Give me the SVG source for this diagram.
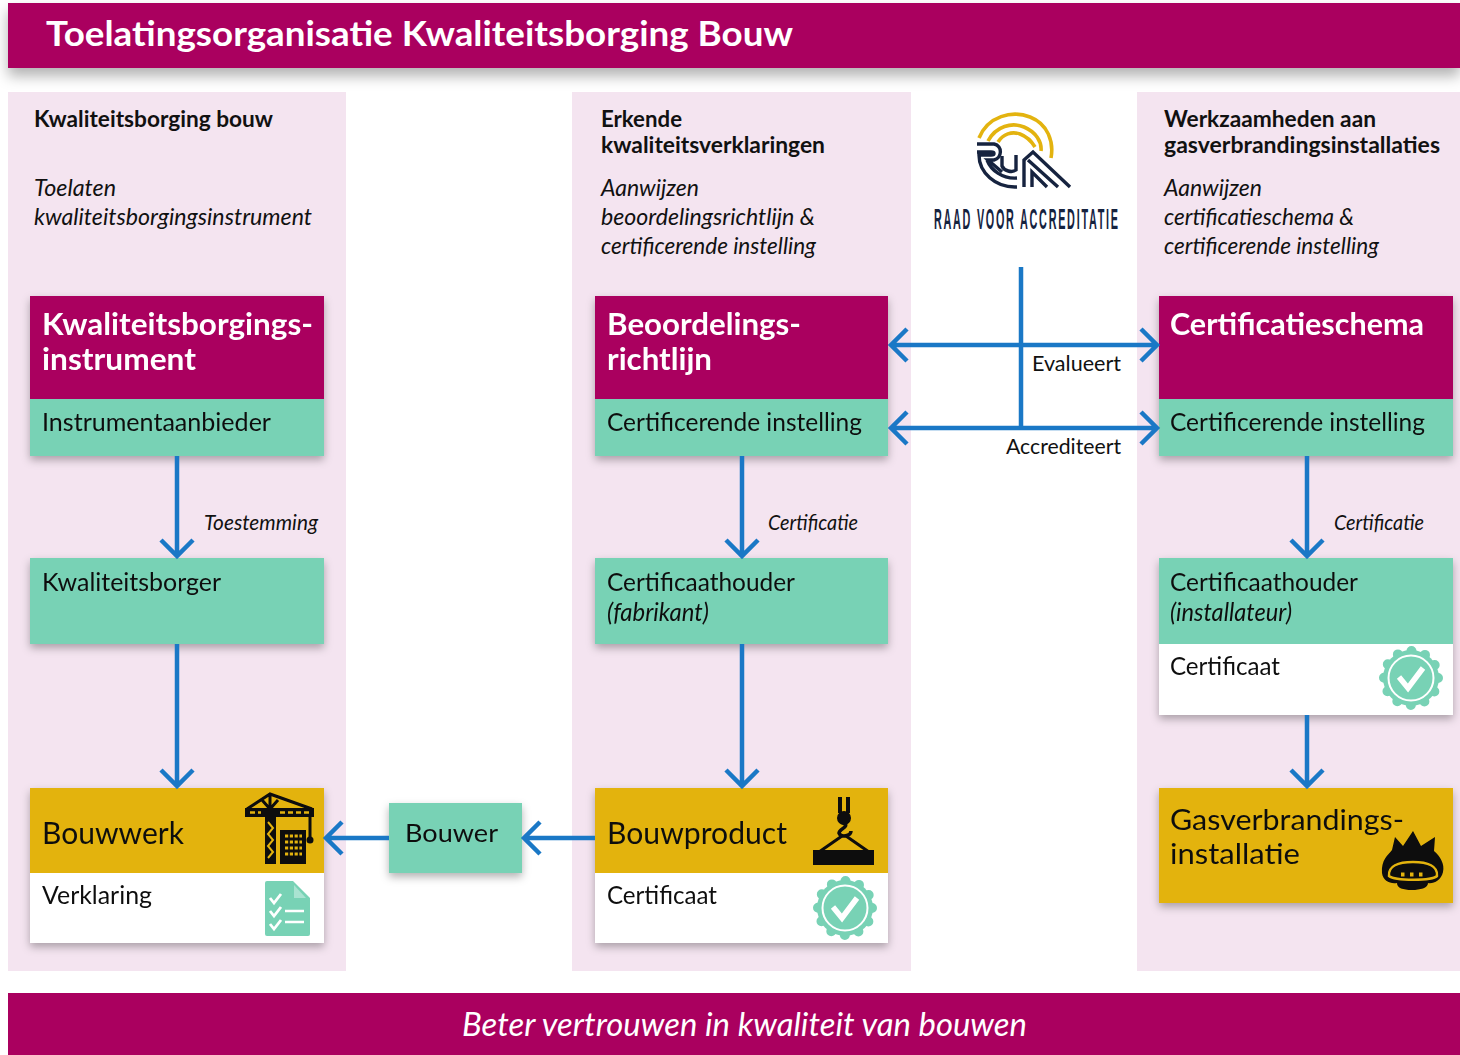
<svg xmlns="http://www.w3.org/2000/svg" width="1460" height="1055" viewBox="0 0 1460 1055">
<style>
text{font-family:"Lato","Noto Sans","Liberation Sans",sans-serif;fill:#111}
.h{font-size:23px;font-weight:700}
.i{font-size:24px;font-style:italic}
.n{font-size:25px}
.hh{font-size:31px;font-weight:700;fill:#fff}
.y{font-size:31px}
.y2{font-size:29px}
.l{font-size:22px}
.li{font-size:22px;font-style:italic}
.p{fill:#f4e4f0}
.m{fill:#aa005f}
.g{fill:#78d2b5}
.o{fill:#e3b30f}
.w{fill:#fff}
.c{fill:none;stroke:#1a78c6;stroke-width:4.5}
.k{fill:#0a0a0a}
</style>
<defs>
<filter id="s" x="-10%" y="-20%" width="120%" height="140%"><feDropShadow dx="0" dy="4" stdDeviation="4" flood-color="#000" flood-opacity=".3"/></filter>
<filter id="st" x="-2%" y="-20%" width="104%" height="170%"><feDropShadow dx="0" dy="8" stdDeviation="7" flood-color="#000" flood-opacity=".3"/></filter>
<g id="badge"><circle r="28" class="g"/><circle r="27" fill="none" stroke="#78d2b5" stroke-width="10" stroke-linecap="round" stroke-dasharray="0 14.14"/><circle r="22.5" fill="none" stroke="#fff" stroke-width="2"/><path d="M-12-1-3 10 12-10" fill="none" stroke="#fff" stroke-width="5.5"/></g>
</defs>
<rect width="1460" height="1055" fill="#fff"/>
<g id="panels"><rect class="p" x="8" y="92" width="338" height="879"/><rect class="p" x="572" y="92" width="339" height="879"/><rect class="p" x="1137" y="92" width="323" height="879"/></g>
<g id="title"><rect class="m" x="8" y="3" width="1452" height="65" filter="url(#st)"/><text x="46" y="46" font-size="34" font-weight="700" style="fill:#fff" textLength="747" lengthAdjust="spacingAndGlyphs">Toelatingsorganisatie Kwaliteitsborging Bouw</text></g>
<g id="footer"><rect class="m" x="8" y="993" width="1452" height="62"/><text x="462" y="1036" font-size="33" font-style="italic" style="fill:#fff" textLength="565" lengthAdjust="spacingAndGlyphs">Beter vertrouwen in kwaliteit van bouwen</text></g>
<g id="col1-head"><text class="h" x="34" y="127" textLength="239" lengthAdjust="spacingAndGlyphs">Kwaliteitsborging bouw</text><text class="i" x="34" y="196" textLength="82" lengthAdjust="spacingAndGlyphs">Toelaten</text><text class="i" x="34" y="225" textLength="278" lengthAdjust="spacingAndGlyphs">kwaliteitsborgingsinstrument</text></g>
<g id="col2-head"><text class="h" x="601" y="127" textLength="81" lengthAdjust="spacingAndGlyphs">Erkende</text><text class="h" x="601" y="153" textLength="224" lengthAdjust="spacingAndGlyphs">kwaliteitsverklaringen</text><text class="i" x="601" y="196" textLength="98" lengthAdjust="spacingAndGlyphs">Aanwijzen</text><text class="i" x="601" y="225" textLength="214" lengthAdjust="spacingAndGlyphs">beoordelingsrichtlijn &amp;</text><text class="i" x="601" y="254" textLength="215" lengthAdjust="spacingAndGlyphs">certificerende instelling</text></g>
<g id="col3-head"><text class="h" x="1164" y="127" textLength="212" lengthAdjust="spacingAndGlyphs">Werkzaamheden aan</text><text class="h" x="1164" y="153" textLength="276" lengthAdjust="spacingAndGlyphs">gasverbrandingsinstallaties</text><text class="i" x="1164" y="196" textLength="98" lengthAdjust="spacingAndGlyphs">Aanwijzen</text><text class="i" x="1164" y="225" textLength="190" lengthAdjust="spacingAndGlyphs">certificatieschema &amp;</text><text class="i" x="1164" y="254" textLength="215" lengthAdjust="spacingAndGlyphs">certificerende instelling</text></g>
<g id="rva-logo">
<g fill="none" stroke="#e3b30f" stroke-width="3.6"><path d="M979 138C988 116 1012 110 1030 117 1048 124 1054 142 1051 158"/><path d="M988 141C996 126 1012 122 1024 127 1036 132 1042 142 1041 151"/><path d="M998 142C1003 134 1012 131 1020 134 1028 137 1032 142 1035 147"/></g>
<g fill="none" stroke="#16233f" stroke-width="3.4"><path d="M977 144H994C1003 146 1002 158 994 160H988L1002 172"/><path d="M977 152H991C995 152 995 155 991 155H979C979 172 995 188 1017 187"/><path d="M987 160C991 170 1002 179 1017 178"/><path d="M1002 156V166C1004 171 1012 173 1016 170V155"/><path d="M1024 187V160L1033 152 1070 187M1032 187V172L1047 187M1028 160 1058 187"/></g>
<text transform="translate(934 229) scale(.36 1)" font-size="30" font-weight="700" style="fill:#16233f;font-family:'Liberation Sans',sans-serif" textLength="511" lengthAdjust="spacing">RAAD VOOR ACCREDITATIE</text>
</g>
<g id="kwaliteitsborgingsinstrument" filter="url(#s)"><rect class="m" x="30" y="296" width="294" height="103"/><rect class="g" x="30" y="399" width="294" height="57"/><text class="hh" x="42" y="335" textLength="271" lengthAdjust="spacingAndGlyphs">Kwaliteitsborgings-</text><text class="hh" x="42" y="370" textLength="154" lengthAdjust="spacingAndGlyphs">instrument</text><text class="n" x="42" y="431" textLength="229" lengthAdjust="spacingAndGlyphs">Instrumentaanbieder</text></g>
<g id="beoordelingsrichtlijn" filter="url(#s)"><rect class="m" x="595" y="296" width="293" height="103"/><rect class="g" x="595" y="399" width="293" height="57"/><text class="hh" x="607" y="335" textLength="194" lengthAdjust="spacingAndGlyphs">Beoordelings-</text><text class="hh" x="607" y="370" textLength="105" lengthAdjust="spacingAndGlyphs">richtlijn</text><text class="n" x="607" y="431" textLength="255" lengthAdjust="spacingAndGlyphs">Certificerende instelling</text></g>
<g id="certificatieschema" filter="url(#s)"><rect class="m" x="1159" y="296" width="294" height="103"/><rect class="g" x="1159" y="399" width="294" height="57"/><text class="hh" x="1170" y="335" textLength="254" lengthAdjust="spacingAndGlyphs">Certificatieschema</text><text class="n" x="1170" y="431" textLength="255" lengthAdjust="spacingAndGlyphs">Certificerende instelling</text></g>
<g id="kwaliteitsborger" filter="url(#s)"><rect class="g" x="30" y="558" width="294" height="86"/><text class="n" x="42" y="591" textLength="179" lengthAdjust="spacingAndGlyphs">Kwaliteitsborger</text></g>
<g id="certificaathouder-fabrikant" filter="url(#s)"><rect class="g" x="595" y="558" width="293" height="86"/><text class="n" x="607" y="591" textLength="188" lengthAdjust="spacingAndGlyphs">Certificaathouder</text><text class="n" x="607" y="621" font-style="italic" textLength="102" lengthAdjust="spacingAndGlyphs">(fabrikant)</text></g>
<g id="certificaathouder-installateur" filter="url(#s)"><rect class="g" x="1159" y="558" width="294" height="86"/><rect class="w" x="1159" y="644" width="294" height="71"/><text class="n" x="1170" y="591" textLength="188" lengthAdjust="spacingAndGlyphs">Certificaathouder</text><text class="n" x="1170" y="621" font-style="italic" textLength="122" lengthAdjust="spacingAndGlyphs">(installateur)</text><text class="n" x="1170" y="675" textLength="110" lengthAdjust="spacingAndGlyphs">Certificaat</text><use href="#badge" x="1411" y="678"/></g>
<g id="bouwwerk" filter="url(#s)"><rect class="o" x="30" y="788" width="294" height="85"/><rect class="w" x="30" y="873" width="294" height="70"/><text class="y" x="42" y="844" textLength="142" lengthAdjust="spacingAndGlyphs">Bouwwerk</text><text class="n" x="42" y="904" textLength="110" lengthAdjust="spacingAndGlyphs">Verklaring</text>
<path class="k" d="M245 808H314V817H245ZM265 817H276V864H265ZM280 830H306V864H280Z"/>
<path d="M247 809 270 794 312 809M270 794V809M262 800 270 809 278 800" fill="none" stroke="#0a0a0a" stroke-width="3"/>
<path d="M250 812.5H261M280 812.5H310" stroke="#e3b30f" stroke-width="2.5" stroke-dasharray="5 3" fill="none"/>
<path d="M268 822 273 828 268 834 273 840 268 846 273 852 268 858" stroke="#e3b30f" stroke-width="2" fill="none"/>
<path d="M285 836H302M285 842H302M285 848H302M285 854H302" stroke="#e3b30f" stroke-width="3.2" stroke-dasharray="3.2 1.6" fill="none"/>
<path d="M310 817V838" stroke="#0a0a0a" stroke-width="3"/><circle cx="310" cy="840" r="3.5" class="k"/>
<path class="g" d="M267 881H293L310 898V934Q310 936 308 936H267Q265 936 265 934V883Q265 881 267 881Z"/><path d="M294 885V898H306Z" fill="#a9e3d1"/><path d="M270 898 274 903 281 894M270 911 274 916 281 907M270 924 274 929 281 920" fill="none" stroke="#fff" stroke-width="2.8"/><path d="M285 911H304M285 922H304" stroke="#fff" stroke-width="2.5"/></g>
<g id="bouwproduct" filter="url(#s)"><rect class="o" x="595" y="788" width="293" height="85"/><rect class="w" x="595" y="873" width="293" height="70"/><text class="y" x="607" y="844" textLength="180" lengthAdjust="spacingAndGlyphs">Bouwproduct</text><text class="n" x="607" y="904" textLength="110" lengthAdjust="spacingAndGlyphs">Certificaat</text>
<path class="k" d="M813 850H874V865H813ZM838 797H842V813H838ZM846 797H850V813H846Z"/><circle cx="844" cy="818" r="7" class="k"/><path d="M843 823C851 826 839 829 839 833 841 838 851 836 851 831" fill="none" stroke="#0a0a0a" stroke-width="3.5"/><path d="M842 836 819 852M846 836 869 852" stroke="#0a0a0a" stroke-width="3"/><use href="#badge" x="845" y="908"/></g>
<g id="bouwer" filter="url(#s)"><rect class="g" x="389" y="803" width="133" height="70"/><text class="n" x="405" y="842" textLength="93" lengthAdjust="spacingAndGlyphs">Bouwer</text></g>
<g id="gasverbrandingsinstallatie" filter="url(#s)"><rect class="o" x="1159" y="788" width="294" height="115"/><text class="y2" x="1170" y="830" textLength="234" lengthAdjust="spacingAndGlyphs">Gasverbrandings-</text><text class="y2" x="1170" y="864" textLength="130" lengthAdjust="spacingAndGlyphs">installatie</text>
<path class="k" d="M1382 873C1381 860 1388 855 1392 850L1395 837 1403 846 1413 831 1421 846 1435 837 1434 851C1440 856 1445 864 1443 872 1441 881 1433 884 1428 883 1428 888 1420 890 1412 890 1403 890 1397 888 1397 883 1390 884 1383 881 1382 873Z"/><path d="M1389 876C1388 866 1398 862 1413 862 1428 862 1438 866 1437 876 1432 881 1395 881 1389 876Z" fill="none" stroke="#e3b30f" stroke-width="2.5"/><path d="M1401 874.5H1428" stroke="#e3b30f" stroke-width="4" stroke-dasharray="3.5 5.5"/></g>
<g id="connectors">
<path class="c" d="M177 456V556M161 540 177 556 193 540"/>
<path class="c" d="M177 644V786M161 770 177 786 193 770"/>
<path class="c" d="M742 456V556M726 540 742 556 758 540"/>
<path class="c" d="M742 644V786M726 770 742 786 758 770"/>
<path class="c" d="M1307 456V556M1291 540 1307 556 1323 540"/>
<path class="c" d="M1307 715V786M1291 770 1307 786 1323 770"/>
<path class="c" d="M595 838H524M540 822 524 838 540 854"/>
<path class="c" d="M389 838H326M342 822 326 838 342 854"/>
<path class="c" d="M1021 267V428"/>
<path class="c" d="M891 345H1157M907 329 891 345 907 361M1141 329 1157 345 1141 361"/>
<path class="c" d="M891 428H1157M907 412 891 428 907 444M1141 412 1157 428 1141 444"/>
</g>
<g id="labels">
<text class="li" x="204" y="530" textLength="114" lengthAdjust="spacingAndGlyphs">Toestemming</text>
<text class="li" x="768" y="530" textLength="90" lengthAdjust="spacingAndGlyphs">Certificatie</text>
<text class="li" x="1334" y="530" textLength="90" lengthAdjust="spacingAndGlyphs">Certificatie</text>
<text class="l" x="1032" y="371" textLength="89" lengthAdjust="spacingAndGlyphs">Evalueert</text>
<text class="l" x="1006" y="454" textLength="115" lengthAdjust="spacingAndGlyphs">Accrediteert</text>
</g>
</svg>
